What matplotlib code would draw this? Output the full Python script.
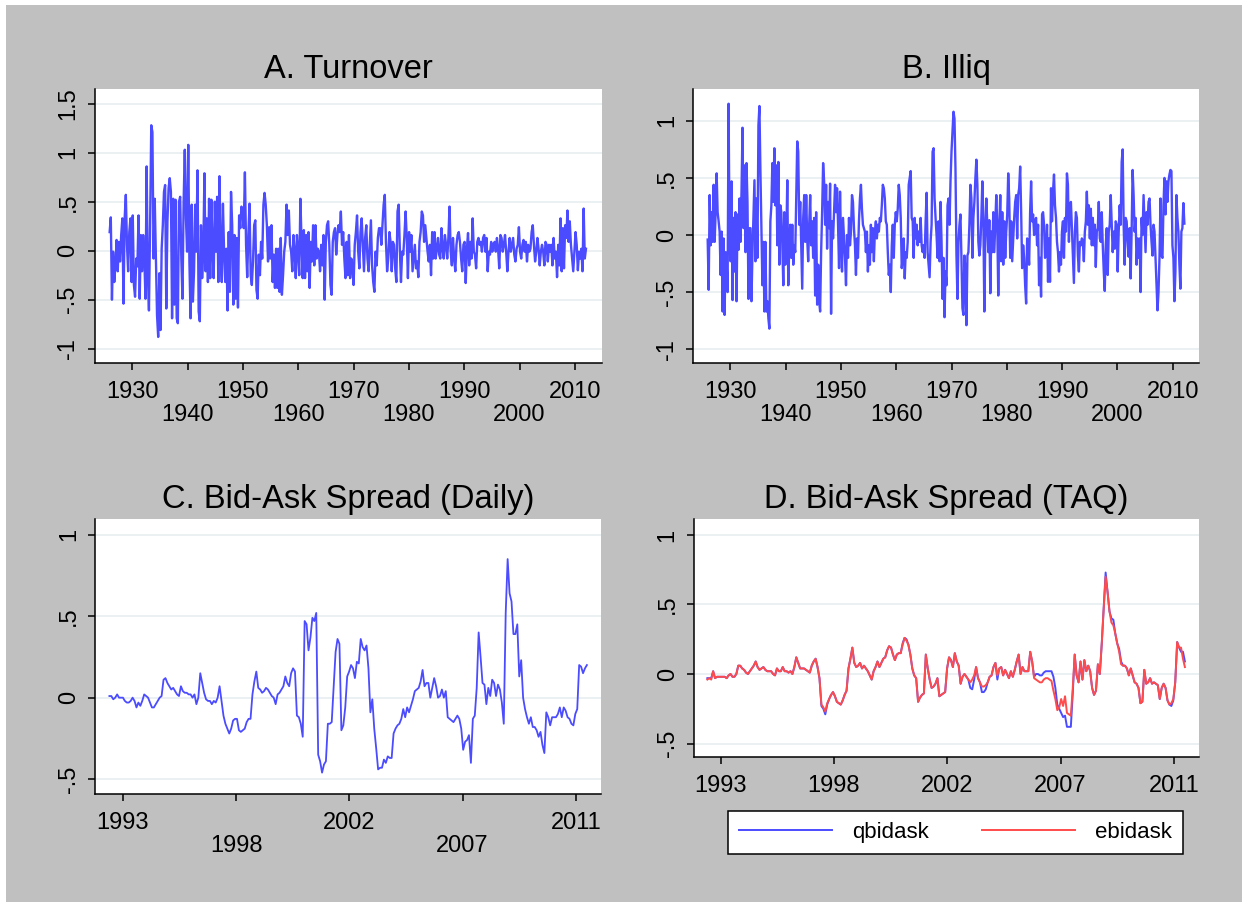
import numpy as np
import matplotlib
matplotlib.use("Agg")
import matplotlib.pyplot as plt
from matplotlib.patches import Rectangle

plt.rcParams['font.family'] = ['Liberation Sans', 'DejaVu Sans']

# ---- data (values only, evenly spaced in time) ----
turnover = [
    0.19, 0.34, -0.50, -0.01, -0.32, -0.15, 0.11, -0.21, 0.09, -0.11,
    0.16, 0.33, -0.54, 0.33, 0.57, 0.06, -0.21, 0.19, 0.33, -0.32,
    0.36, -0.35, -0.47, -0.08, -0.16, 0.36, -0.49, 0.16, -0.21, 0.16,
    -0.08, -0.49, 0.86, -0.21, -0.61, 0.26, 1.28, 1.21, -0.08, 0.53,
    -0.08, -0.66, -0.88, -0.23, -0.81, 0.02, 0.26, 0.60, 0.67, -0.59,
    0.30, 0.64, 0.74, 0.60, -0.69, 0.53, -0.55, 0.52, -0.69, -0.74,
    0.50, 0.55, -0.08, -0.49, 0.50, 1.03, 0.33, -0.01, 1.08, -0.11,
    -0.69, 0.47, -0.52, -0.21, 0.47, -0.01, 0.82, -0.62, -0.72, 0.26,
    -0.28, -0.01, 0.79, -0.21, 0.33, -0.32, 0.53, -0.28, 0.52, 0.02,
    -0.28, 0.50, -0.01, 0.55, -0.32, 0.76, -0.01, -0.32, 0.48, -0.01,
    -0.32, 0.02, -0.61, 0.19, -0.42, 0.60, 0.26, -0.55, 0.16, -0.49,
    0.13, -0.58, 0.36, 0.23, 0.45, 0.40, 0.23, 0.80, 0.06, -0.27,
    0.16, 0.48, -0.25, -0.35, -0.11, 0.26, 0.31, -0.40, -0.49, -0.04,
    -0.25, 0.09, -0.08, 0.47, 0.59,
    0.47, 0.26, -0.11, 0.24, -0.08, 0.26, -0.32, -0.04, -0.38, 0.02,
    -0.38, 0.02, -0.42, 0.13, -0.45, -0.25, -0.01, 0.09, 0.47, 0.16,
    0.41, 0.06, -0.01, -0.21, 0.16, -0.01, -0.28, 0.16, -0.01, -0.25,
    0.53, 0.09, -0.28, 0.21, -0.28, 0.16, -0.21, 0.19, -0.38, 0.09,
    -0.11, 0.26, -0.15, 0.26, -0.08, 0.02, -0.01, -0.21, 0.06, -0.15,
    0.16, -0.50, 0.09, 0.26, 0.30, 0.06, -0.35, -0.45, 0.09, 0.19,
    0.23, -0.04, 0.16, 0.26, 0.19, 0.40, 0.06, 0.19, -0.08, -0.28,
    0.09, -0.25, 0.16, -0.28, -0.08, -0.15, -0.35, 0.06, 0.19, 0.36,
    -0.01, -0.18, 0.19, 0.33, 0.06, -0.21, 0.13, 0.26, -0.08, -0.21,
    0.06, 0.31, -0.15, -0.32, -0.42, -0.01, -0.15, 0.13, 0.23, 0.23,
    0.06, 0.26, 0.47, 0.57, 0.09, -0.21, -0.08, 0.19, 0.09, -0.21,
    0.09, 0.06, -0.18, -0.32, 0.40, 0.47, 0.02, -0.32, -0.01, -0.04,
    0.16, 0.40, 0.13, -0.28, 0.19, -0.01, 0.16, -0.21, -0.08, 0.06,
    -0.18, -0.11, -0.27, 0.09, 0.19, 0.40, 0.36, 0.09, 0.26, 0.13,
    -0.01, -0.11, 0.06, -0.25, 0.19, -0.08, 0.19, -0.08, 0.02, 0.13,
    -0.04, -0.08, 0.23,
    0.02, -0.08, 0.16, 0.06, -0.08, 0.13, 0.45, -0.01, -0.15, 0.13,
    -0.08, -0.21, 0.06, 0.16, 0.19, 0.09, -0.08, -0.21, 0.06, 0.09,
    -0.33, 0.02, 0.18, -0.15, 0.09, -0.08, 0.33, -0.01, -0.04, -0.18,
    0.09, 0.13, 0.06, 0.09, -0.01, 0.13, 0.16, -0.01, 0.13, -0.21,
    -0.01, -0.04, 0.09, -0.01, 0.06, 0.09, -0.01, 0.13, 0.02, -0.18,
    0.16, 0.13, -0.01, 0.06, 0.16, -0.01, -0.21, -0.01, 0.13, -0.01,
    0.06, 0.13, -0.04, -0.11, 0.02, 0.06, 0.24, -0.01, -0.08, 0.06,
    0.11, -0.01, 0.09, -0.11, 0.06, -0.01, 0.02, 0.19, 0.26, 0.06,
    -0.11, -0.01, 0.13, 0.02, -0.15, -0.01, 0.06, -0.01, -0.15, 0.09,
    0.06, -0.11, 0.06, -0.01, 0.06, -0.15, 0.13, -0.08, -0.01, -0.27,
    0.06, -0.15, 0.33, -0.21, 0.23, -0.18, 0.26, 0.13, 0.41, 0.09,
    0.30, 0.06, -0.08, -0.21, -0.01, 0.19, 0.06, -0.20, -0.01, -0.08,
    0.02, -0.21, 0.43, -0.08, 0.02,
]

illiq = [
    -0.04, -0.48, 0.35, -0.09, 0.20, -0.06, 0.44, -0.06, 0.20, 0.54,
    0.20, 0.12, 0.03, -0.35, 0.03, -0.67, -0.03, -0.70, -0.15, -0.23,
    -0.50, 1.15, -0.09, -0.23, 0.47, -0.57, 0.15, -0.32, 0.20, -0.58,
    0.18, -0.13, 0.32, -0.06, 0.38, 0.94, 0.06, 0.61, -0.15, 0.63,
    0.29, -0.56, 0.06, 0.06, -0.58, -0.15, 0.15, 0.48, -0.23, 0.32,
    -0.20, 0.96, 1.13, 0.56, 0.06, -0.44, -0.06, -0.67, -0.06, -0.67,
    -0.58, -0.73, -0.82, 0.12, 0.26, 0.63, 0.29, 0.76, 0.26, 0.61,
    -0.09, 0.64, -0.26, 0.26, 0.20, -0.09, -0.44, 0.20, -0.26, -0.06,
    0.48, -0.44, -0.09, 0.09, -0.20, 0.09, -0.26, -0.09, -0.15, 0.35,
    0.82, 0.73, 0.09, 0.29, -0.09, -0.47, 0.15, 0.35, -0.06, 0.35,
    -0.03, -0.23, 0.09, 0.35, -0.09, 0.12, -0.20, 0.15, -0.53, 0.20,
    -0.61, -0.26, -0.58, -0.67, -0.15, 0.20, 0.63, 0.47, 0.09, 0.44,
    -0.12, 0.29, 0.06, 0.45, -0.69, 0.12, -0.03, 0.20, 0.44, 0.20,
    0.41, 0.09, -0.29, 0.38, -0.06, -0.32, 0.15, -0.03, -0.20, -0.44,
    0.00, -0.20, 0.15, -0.09, 0.03, 0.35, 0.29, 0.06, -0.09, -0.35,
    -0.03, -0.20, 0.12, 0.32, 0.44, 0.23, 0.09, 0.06, 0.03, -0.15,
    0.03, -0.32, -0.09, -0.26, 0.09,
    -0.15, 0.06, -0.23, 0.03, 0.12, -0.03, 0.09, 0.03, 0.15, 0.12,
    0.26, 0.44, 0.41, 0.32, 0.12, 0.09, -0.15, -0.35, -0.26, -0.50,
    -0.09, 0.09, -0.20, 0.09, 0.20, 0.12, 0.23, 0.44, 0.35, 0.15,
    -0.29, -0.20, -0.03, -0.38, -0.15, -0.20, -0.06, 0.44, 0.50, 0.56,
    0.15, 0.12, -0.20, 0.15, -0.03, 0.09, -0.09, 0.03, -0.06, 0.15,
    -0.09, -0.15, -0.09, -0.20, 0.12, 0.37, -0.15, -0.26, -0.37, -0.06,
    0.09, 0.73, 0.76, 0.32, 0.15, 0.00, -0.20, 0.12, -0.23, 0.29,
    -0.06, -0.56, -0.20, -0.72, -0.32, -0.44, 0.26, 0.32, 0.09, 0.47,
    0.73, 0.91, 1.08, 1.02, 0.58, -0.18, -0.56, -0.06, 0.09, 0.18,
    -0.20, -0.64, -0.70, -0.18, -0.32, -0.79, -0.18, -0.15, 0.09, 0.44,
    0.32, -0.20, 0.15, 0.29, 0.50, 0.66, 0.44, -0.06, -0.18, -0.09,
    0.15, 0.47, 0.15, -0.67, 0.00, 0.32, 0.09, -0.15, 0.13, -0.51,
    0.03, -0.15, 0.20, -0.15, 0.09, 0.35, 0.09, -0.53, 0.06, 0.35,
    -0.23, 0.20, -0.26, 0.12, -0.20, 0.03, 0.18, 0.54, 0.32, -0.20,
    0.12, -0.23, -0.03, 0.15, 0.29, 0.35, -0.03, 0.35, 0.41, 0.60,
    0.20, -0.29, -0.09, -0.20, -0.44, -0.60, -0.03, -0.12, -0.26, 0.20,
    0.47, 0.12, 0.18, 0.00, 0.12, 0.15, -0.09, 0.09, -0.44, -0.20,
    -0.54, 0.18, 0.20, 0.09, -0.20,
    -0.15, 0.09, -0.41, -0.03, -0.41, 0.41, 0.12, 0.38, 0.53, 0.26,
    0.15, -0.06, -0.15, -0.32, -0.15, -0.26, 0.03, 0.12, -0.20, 0.15,
    0.03, 0.54, 0.44, -0.06, 0.26, 0.29, 0.06, -0.15, -0.42, 0.03,
    0.20, 0.15, -0.18, -0.32, -0.06, -0.09, -0.03, -0.06, -0.23, 0.03,
    0.12, 0.38, 0.09, 0.26, -0.03, 0.23, -0.09, 0.15, -0.09, 0.09,
    -0.28, 0.03, 0.06, 0.29, -0.03, -0.06, 0.20, -0.09, -0.32, -0.49,
    -0.09, 0.06, -0.35, 0.03, 0.09, 0.35, 0.09, -0.15, 0.03, -0.12,
    0.12, 0.09, -0.32, 0.03, 0.26, 0.09, 0.64, 0.75, 0.09, -0.26,
    0.15, 0.12, -0.06, -0.19, 0.06, -0.38, 0.03, 0.57, 0.35, 0.03,
    0.15, -0.26, -0.03, -0.20, -0.03, -0.50, 0.15, 0.00, 0.35, 0.09,
    -0.15, 0.20, 0.09, 0.29, 0.32, 0.09, -0.06, -0.18, 0.09, 0.03,
    -0.20, -0.44, -0.66, -0.50, -0.20, 0.32, -0.18, -0.20, 0.26, 0.50,
    0.18, 0.47, 0.29, 0.47, 0.53, 0.57, 0.56, -0.09, -0.20, -0.58,
    -0.32, 0.35, 0.15, 0.03, -0.26, -0.47, 0.03, 0.06, 0.28, 0.10,
]

spread_daily = [
    0.01, 0.01, -0.01, 0.00, 0.02, 0.00, 0.00, 0.00, -0.02, -0.03,
    -0.03, -0.02, 0.00, -0.02, -0.06, -0.03, -0.05, -0.02, 0.02, 0.01,
    0.00, -0.03, -0.06, -0.06, -0.04, -0.02, 0.00, 0.01, 0.11, 0.12,
    0.09, 0.07, 0.05, 0.06, 0.04, 0.02, 0.01, 0.07, 0.04, 0.03,
    0.03, 0.02, 0.02, 0.00, 0.02, -0.04, 0.00, 0.15, 0.09, 0.03,
    -0.01, -0.02, -0.02, -0.04, -0.02, -0.03, 0.00, 0.07, -0.02, -0.11,
    -0.16, -0.19, -0.22, -0.19, -0.14, -0.13, -0.13, -0.20, -0.21, -0.20,
    -0.19, -0.15, -0.13, -0.13, 0.02, 0.10, 0.16, 0.06, 0.05, 0.03,
    0.04, 0.06, 0.05, 0.03, 0.01, 0.00, -0.04, 0.02, 0.03, 0.05,
    0.07, 0.13, 0.09, 0.07, 0.15, 0.18, 0.16, -0.11, -0.12, -0.16,
    -0.24, 0.47, 0.45, 0.29, 0.37, 0.49, 0.47, 0.52, -0.35, -0.39,
    -0.46, -0.41, -0.39, -0.16, -0.16, -0.15, 0.06, 0.28, 0.36, 0.33,
    -0.20, -0.17, -0.06, 0.13, 0.16, 0.20, 0.18, 0.12, 0.22, 0.21,
    0.36, 0.31, 0.29, 0.32, 0.18, -0.09, -0.01, -0.19, -0.31, -0.44,
    -0.43, -0.43, -0.38, -0.40, -0.36, -0.37, -0.37, -0.22, -0.19, -0.17,
    -0.16, -0.13, -0.07, -0.12, -0.06, -0.09, -0.05, -0.01, 0.04, 0.05,
    0.06, 0.10, 0.17, 0.07, 0.09, 0.09, 0.00, 0.06, 0.12, 0.07,
    0.00, 0.01, 0.05, 0.00, 0.04, -0.12, -0.13, -0.14, -0.15, -0.13,
    -0.11, -0.13, -0.19, -0.32, -0.27, -0.26, -0.23, -0.40, -0.13, -0.11,
    0.06, 0.40, 0.25, 0.09, 0.08, -0.04, 0.06, 0.01, 0.11, 0.09,
    0.01, 0.08, 0.05, -0.03, -0.16, 0.52, 0.85, 0.64, 0.59, 0.39,
    0.39, 0.45, 0.13, 0.23, 0.00, -0.07, -0.12, -0.16, -0.12, -0.18,
    -0.18, -0.20, -0.24, -0.21, -0.29, -0.34, -0.09, -0.12, -0.17, -0.12,
    -0.12, -0.12, -0.10, -0.06, -0.12, -0.06, -0.08, -0.12, -0.13, -0.16,
    -0.17, -0.10, -0.07, 0.20, 0.19, 0.15, 0.18, 0.20,
]

ebidask = [
    -0.04, -0.03, -0.04, 0.02, -0.03, -0.02, -0.02, -0.02, -0.02, -0.02,
    -0.03, -0.01, 0.00, -0.02, -0.02, 0.00, 0.06, 0.06, 0.04, 0.03,
    0.01, 0.00, 0.02, 0.04, 0.06, 0.09, 0.05, 0.03, 0.04, 0.05,
    0.03, 0.02, 0.02, 0.02, 0.00, -0.01, 0.04, 0.02, 0.02, 0.05,
    0.02, 0.02, 0.01, 0.02, 0.00, 0.05, 0.12, 0.08, 0.04, 0.04,
    0.04, 0.03, 0.02, 0.01, 0.06, 0.09, 0.11, 0.05, -0.03, -0.22,
    -0.24, -0.27, -0.21, -0.18, -0.15, -0.13, -0.16, -0.20, -0.21, -0.22,
    -0.19, -0.15, -0.12, 0.04, 0.11, 0.19, 0.08, 0.05, 0.06, 0.08,
    0.04, 0.06, 0.04, 0.02, -0.01, -0.04, 0.02, 0.05, 0.09, 0.05,
    0.08, 0.11, 0.12, 0.17, 0.20, 0.19, 0.14, 0.10, 0.14, 0.15,
    0.15, 0.21, 0.26, 0.24, 0.21, 0.14, 0.04, -0.01, -0.03, -0.20,
    -0.17, -0.15, -0.14, 0.14, 0.04, -0.04, -0.10, -0.09, -0.07, -0.03,
    -0.16, -0.15, -0.14, -0.13, 0.04, 0.12, 0.10, 0.05, 0.15, 0.09,
    0.06, -0.07, -0.02, 0.00, -0.02, -0.04, -0.06, -0.04, -0.01, 0.05,
    -0.03, -0.06, -0.09, -0.09, -0.08, -0.06, -0.02, -0.01, 0.05, 0.08,
    -0.01, 0.04, 0.05, -0.01, 0.03, 0.00, -0.03, 0.02, -0.02, 0.03,
    0.09, 0.14, 0.00, 0.05, 0.02, 0.02, 0.02, 0.16, 0.09, -0.03,
    -0.04, -0.05, -0.06, -0.06, -0.04, -0.03, -0.03, -0.04, -0.05, -0.12,
    -0.18, -0.26, -0.24, -0.18, -0.23, -0.16, -0.28, -0.29, -0.30, -0.10,
    0.14, -0.01, -0.06, 0.09, -0.04, 0.10, 0.02, 0.06, 0.02, -0.10,
    -0.15, -0.12, 0.07, 0.00, 0.22, 0.47, 0.70, 0.59, 0.45, 0.37,
    0.35, 0.29, 0.22, 0.16, 0.07, 0.06, 0.06, 0.04, -0.01, 0.04,
    -0.01, -0.06, -0.07, -0.10, -0.21, -0.20, 0.03, -0.07, -0.06, -0.03,
    -0.07, -0.06, -0.07, -0.08, -0.18, -0.10, -0.07, -0.10, -0.19, -0.22,
    -0.21, -0.18, -0.06, 0.23, 0.19, 0.19, 0.11, 0.05,
]

qbidask = [
    -0.03, -0.03, -0.03, 0.02, -0.03, -0.02, -0.02, -0.02, -0.02, -0.02,
    -0.03, -0.01, 0.00, -0.02, -0.02, 0.00, 0.06, 0.06, 0.04, 0.03,
    0.01, 0.00, 0.02, 0.04, 0.06, 0.09, 0.05, 0.03, 0.04, 0.05,
    0.03, 0.02, 0.02, 0.02, 0.00, -0.01, 0.04, 0.02, 0.02, 0.05,
    0.02, 0.02, 0.01, 0.02, 0.00, 0.05, 0.12, 0.08, 0.04, 0.04,
    0.04, 0.03, 0.02, 0.01, 0.06, 0.09, 0.11, 0.05, -0.03, -0.23,
    -0.25, -0.29, -0.22, -0.18, -0.15, -0.13, -0.16, -0.20, -0.21, -0.22,
    -0.19, -0.15, -0.12, 0.04, 0.11, 0.19, 0.08, 0.05, 0.06, 0.08,
    0.04, 0.06, 0.04, 0.02, -0.01, -0.04, 0.02, 0.05, 0.09, 0.05,
    0.08, 0.11, 0.12, 0.17, 0.20, 0.19, 0.14, 0.10, 0.14, 0.15,
    0.15, 0.22, 0.26, 0.25, 0.21, 0.14, 0.04, -0.01, -0.03, -0.20,
    -0.17, -0.15, -0.14, 0.14, 0.04, -0.04, -0.10, -0.09, -0.07, -0.03,
    -0.16, -0.15, -0.14, -0.13, 0.04, 0.12, 0.10, 0.05, 0.15, 0.09,
    0.06, -0.07, -0.02, 0.00, -0.02, -0.04, -0.10, -0.11, -0.04, 0.05,
    -0.03, -0.06, -0.13, -0.13, -0.11, -0.06, -0.02, -0.01, 0.05, 0.08,
    -0.04, 0.04, 0.05, -0.01, 0.03, 0.00, -0.03, 0.02, -0.02, 0.03,
    0.09, 0.14, 0.00, 0.05, 0.02, 0.02, 0.02, 0.16, 0.09, -0.02,
    0.00, 0.00, -0.01, -0.01, 0.01, 0.02, 0.02, 0.02, 0.02, -0.02,
    -0.10, -0.22, -0.25, -0.28, -0.31, -0.30, -0.38, -0.38, -0.38, -0.14,
    0.14, -0.01, -0.06, 0.09, -0.04, 0.10, 0.02, 0.06, 0.02, -0.10,
    -0.15, -0.12, 0.07, 0.00, 0.22, 0.47, 0.73, 0.59, 0.45, 0.40,
    0.39, 0.29, 0.22, 0.18, 0.09, 0.06, 0.06, 0.04, -0.01, 0.04,
    -0.01, -0.06, -0.07, -0.10, -0.21, -0.20, 0.03, -0.07, -0.06, -0.03,
    -0.07, -0.06, -0.07, -0.08, -0.18, -0.10, -0.07, -0.10, -0.19, -0.22,
    -0.23, -0.19, -0.06, 0.23, 0.19, 0.16, 0.16, 0.09,
]

# sample periods (decimal years, first and last observation)
period_long = (1925.9, 2012.0)
period_illiq = (1925.9, 2012.1)
period_short = (1992.47, 2011.44)

t_turn = np.linspace(*period_long, len(turnover))
t_illiq = np.linspace(*period_illiq, len(illiq))
t_daily = np.linspace(*period_short, len(spread_daily))
t_taq = np.linspace(*period_short, len(ebidask))

BLUE = '#4b4bff'
RED = '#ff4b4b'
GRID = '#e9f0f2'

fig = plt.figure(figsize=(12.42, 9.02), dpi=100, facecolor='white')
fig.patches.append(Rectangle((6 / 1242, 0), 1, (902 - 5) / 902,
                             transform=fig.transFigure, facecolor='#c0c0c0',
                             edgecolor='none', zorder=-10))


def px_axes(left, top, right, bottom):
    return fig.add_axes([left / 1242, 1 - bottom / 902,
                         (right - left) / 1242, (bottom - top) / 902])


def style(ax, yt, ylab, xt, xlab, title):
    ax.set_facecolor('white')
    ax.spines['top'].set_visible(False)
    ax.spines['right'].set_visible(False)
    for s in ('left', 'bottom'):
        ax.spines[s].set_linewidth(1.1)
    ax.set_yticks(yt)
    ax.set_yticklabels(ylab, rotation=90, va='center')
    ax.set_xticks(xt)
    ax.set_xticklabels(xlab)
    for lab in ax.get_xticklabels():
        lab.set_linespacing(1.05)
    ax.grid(axis='y', color=GRID, linewidth=1.3)
    ax.set_axisbelow(True)
    ax.tick_params(axis='both', length=5, width=1.1, labelsize=17)
    ax.tick_params(axis='y', pad=6)
    ax.tick_params(axis='x', pad=8)
    ax.set_title(title, fontsize=23.5, pad=8)


long_ticks = [1930, 1940, 1950, 1960, 1970, 1980, 1990, 2000, 2010]
long_labels = ['1930', '\n1940', '1950', '\n1960', '1970', '\n1980', '1990', '\n2000', '2010']
short_ticks = [1993, 1997.5, 2002, 2006.5, 2011]

# A. Turnover
ax = px_axes(94.7, 89, 602, 363)
ax.plot(t_turn, turnover, color=BLUE, linewidth=1.7)
ax.set_xlim(1923.2, 2014.9)
ax.set_ylim(-1.146, 1.65)
style(ax, [-1, -0.5, 0, 0.5, 1, 1.5], ['-1', '-.5', '0', '.5', '1', '1.5'],
      long_ticks, long_labels, 'A. Turnover')

# B. Illiq
ax = px_axes(693.3, 89, 1199.3, 363)
ax.plot(t_illiq, illiq, color=BLUE, linewidth=1.7)
ax.set_xlim(1923.3, 2014.8)
ax.set_ylim(-1.121, 1.279)
style(ax, [-1, -0.5, 0, 0.5, 1], ['-1', '-.5', '0', '.5', '1'],
      long_ticks, long_labels, 'B. Illiq')

# C. Bid-Ask Spread (Daily)
ax = px_axes(95.3, 519, 601, 794)
ax.plot(t_daily, spread_daily, color=BLUE, linewidth=1.3)
ax.set_xlim(1991.91, 2012.0)
ax.set_ylim(-0.591, 1.096)
style(ax, [-0.5, 0, 0.5, 1], ['-.5', '0', '.5', '1'],
      short_ticks, ['1993', '\n1998', '2002', '\n2007', '2011'],
      'C. Bid-Ask Spread (Daily)')

# D. Bid-Ask Spread (TAQ)
ax = px_axes(694, 519, 1199, 757)
l1, = ax.plot(t_taq, qbidask, color=BLUE, linewidth=1.4)
l2, = ax.plot(t_taq, ebidask, color=RED, linewidth=1.4)
ax.set_xlim(1991.94, 2012.0)
ax.set_ylim(-0.597, 1.115)
style(ax, [-0.5, 0, 0.5, 1], ['-.5', '0', '.5', '1'],
      short_ticks, ['1993', '1998', '2002', '2007', '2011'],
      'D. Bid-Ask Spread (TAQ)')
leg = ax.legend([l1, l2], ['qbidask', 'ebidask'], loc='upper center',
                bbox_to_anchor=(955.5 / 1242, 1 - 811 / 902),
                bbox_transform=fig.transFigure, ncol=2, fontsize=16,
                frameon=True, fancybox=False, framealpha=1,
                edgecolor='black', handlelength=4.2, columnspacing=2.4,
                handletextpad=0.9, borderpad=0.5, borderaxespad=0)
leg.get_frame().set_linewidth(1.1)

fig.savefig('out.png', dpi=100, facecolor=fig.get_facecolor())
